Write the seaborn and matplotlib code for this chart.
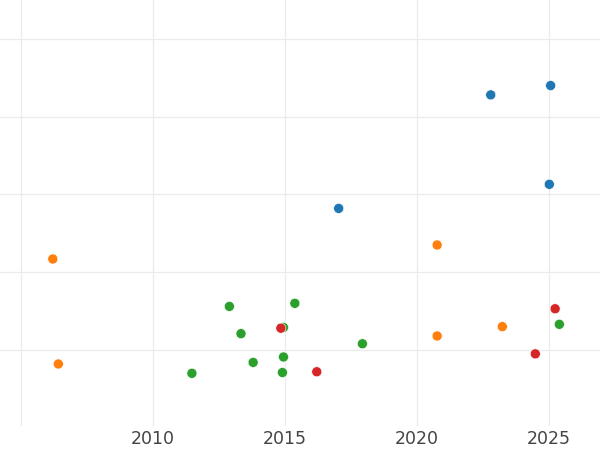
import matplotlib
matplotlib.use('Agg')
import matplotlib.pyplot as plt
import seaborn as sns
import pandas as pd

# 数据
groups = ['A', 'B', 'C', 'D']
palette = ['#1f77b4', '#ff7f0e', '#2ca02c', '#d62728']

year_a = [2022.79, 2025.06, 2025.01, 2017.03]
value_a = [4.28, 4.40, 3.13, 2.82]

year_b = [2006.20, 2006.41, 2020.76, 2020.76, 2023.23]
value_b = [2.17, 0.82, 2.35, 1.18, 1.30]

year_c = [2012.89, 2013.33, 2015.37, 2014.94, 2013.79, 2014.94, 2014.90, 2011.47, 2017.93, 2025.39]
value_c = [1.56, 1.21, 1.60, 1.29, 0.84, 0.91, 0.71, 0.70, 1.08, 1.33]

year_d = [2014.84, 2016.20, 2025.23, 2024.48]
value_d = [1.28, 0.72, 1.53, 0.95]

x_ticks = [2005, 2010, 2015, 2020, 2025]
x_labels = ['', '2010', '2015', '2020', '2025']
y_ticks = [1, 2, 3, 4, 5]

df = pd.DataFrame({
    'year': year_a + year_b + year_c + year_d,
    'value': value_a + value_b + value_c + value_d,
    'group': ['A'] * len(year_a) + ['B'] * len(year_b) + ['C'] * len(year_c) + ['D'] * len(year_d),
})

sns.set_theme(style='whitegrid', rc={'grid.color': '#ebebeb', 'grid.linewidth': 0.9})
plt.rcParams['font.family'] = ['DejaVu Sans']

fig = plt.figure(figsize=(6, 4.5), dpi=100)
ax = fig.add_axes([0, 24 / 450, 1, 1 - 24 / 450])
sns.scatterplot(data=df, x='year', y='value', hue='group', hue_order=groups,
                palette=palette, s=52, edgecolor='white', linewidth=0.4,
                legend=False, ax=ax)

ax.set_xlim(2004.2, 2026.93)
ax.set_ylim(0.0225, 5.50)
ax.set_xticks(x_ticks)
ax.set_xticklabels(x_labels)
ax.set_yticks(y_ticks)
ax.set_yticklabels([])
ax.tick_params(length=0, labelsize=12.5, labelcolor='#444444', pad=3)
ax.set_xlabel('')
ax.set_ylabel('')
for s in ax.spines.values():
    s.set_visible(False)

fig.savefig('out.png', dpi=100)
